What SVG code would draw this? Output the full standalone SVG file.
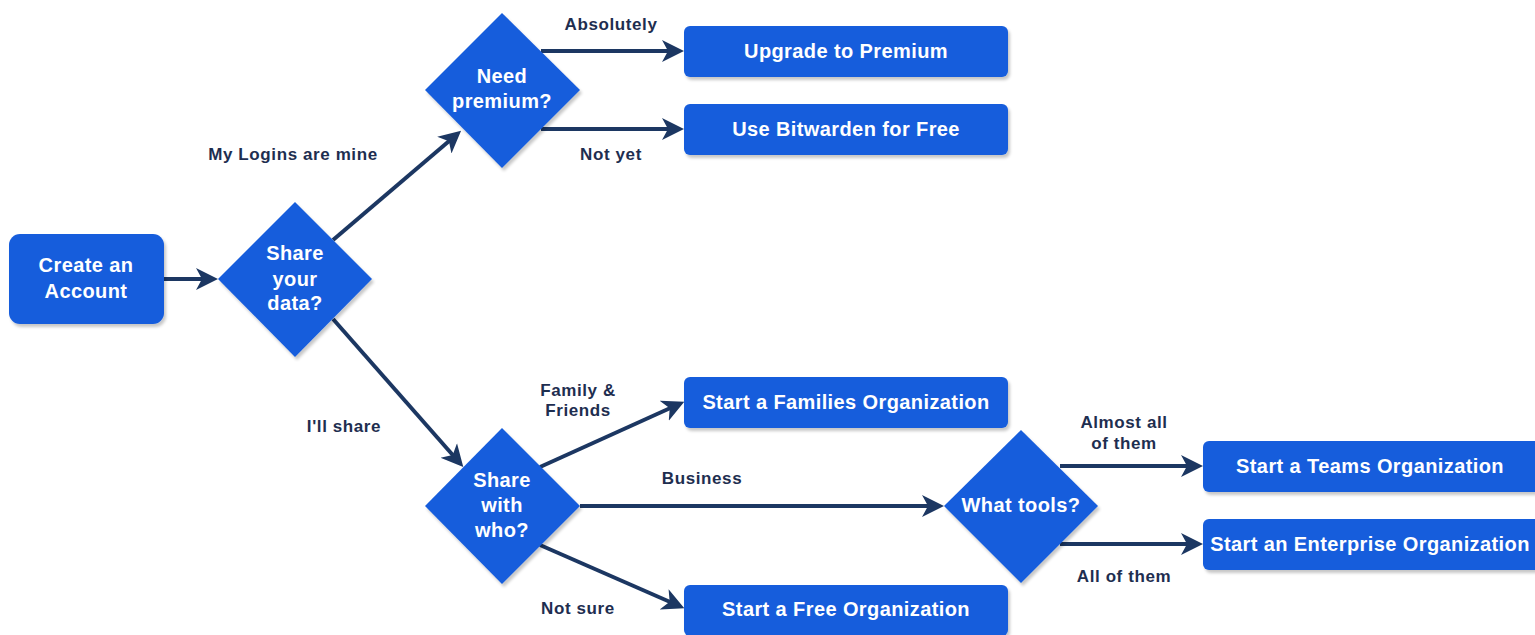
<svg xmlns="http://www.w3.org/2000/svg" width="1535" height="635" viewBox="0 0 1535 635">
<defs>
<filter id="sh" x="-10%" y="-10%" width="130%" height="130%">
<feDropShadow dx="2" dy="3" stdDeviation="1.5" flood-color="#000" flood-opacity="0.22"/>
</filter>
<marker id="arr" markerUnits="userSpaceOnUse" markerWidth="24" markerHeight="24" viewBox="0 0 24 24" refX="14" refY="12" orient="auto">
<path d="M0,1 L22,12 L0,23 L6,12 Z" fill="#1c3762"/>
</marker>
<style>
.node{fill:#175ddc;filter:url(#sh)}
.nt{font-family:"Liberation Sans",Arial,Helvetica,sans-serif;font-weight:bold;font-size:20px;letter-spacing:0.4px;fill:#fff;text-anchor:middle}
.lb{font-family:"Liberation Sans",Arial,Helvetica,sans-serif;font-weight:bold;font-size:17px;letter-spacing:0.6px;fill:#1e2e50;text-anchor:middle}
.e{stroke:#1c3762;stroke-width:4;fill:none;marker-end:url(#arr)}
</style>
</defs>
<rect width="1535" height="635" fill="#fff"/>

<g id="connectors">
<line class="e" x1="164" y1="279" x2="210" y2="279"/>
<line class="e" x1="333" y1="240" x2="455" y2="136"/>
<line class="e" x1="333" y1="319" x2="458" y2="461"/>
<line class="e" x1="541" y1="51" x2="676" y2="51"/>
<line class="e" x1="541" y1="129" x2="676" y2="129"/>
<line class="e" x1="540" y1="467" x2="677" y2="405"/>
<line class="e" x1="580" y1="506" x2="936" y2="506"/>
<line class="e" x1="540" y1="545" x2="677" y2="605"/>
<line class="e" x1="1060" y1="466" x2="1195" y2="466"/>
<line class="e" x1="1060" y1="544" x2="1195" y2="544"/>
</g>

<g id="labels">
<text class="lb" x="611" y="30">Absolutely</text>
<text class="lb" x="611" y="160">Not yet</text>
<text class="lb" x="293" y="160">My Logins are mine</text>
<text class="lb" x="344" y="432">I'll share</text>
<text class="lb" x="578" y="396">Family &amp;</text>
<text class="lb" x="578" y="416">Friends</text>
<text class="lb" x="702" y="484">Business</text>
<text class="lb" x="578" y="614">Not sure</text>
<text class="lb" x="1124" y="428">Almost all</text>
<text class="lb" x="1124" y="449">of them</text>
<text class="lb" x="1124" y="582">All of them</text>
</g>

<g id="create-account">
<rect class="node" x="9" y="234" width="155" height="90" rx="11"/>
<text class="nt" x="86" y="272">Create an</text>
<text class="nt" x="86" y="298">Account</text>
</g>

<g id="share-your-data">
<polygon class="node" points="295,202 372,279 295,357 218,279"/>
<text class="nt" x="295" y="260">Share</text>
<text class="nt" x="295" y="286">your</text>
<text class="nt" x="295" y="310">data?</text>
</g>

<g id="need-premium">
<polygon class="node" points="502,13 580,90 502,168 425,90"/>
<text class="nt" x="502" y="83">Need</text>
<text class="nt" x="502" y="108">premium?</text>
</g>

<g id="upgrade-premium">
<rect class="node" x="684" y="26" width="324" height="51" rx="6"/>
<text class="nt" x="846" y="58">Upgrade to Premium</text>
</g>

<g id="use-free">
<rect class="node" x="684" y="104" width="324" height="51" rx="6"/>
<text class="nt" x="846" y="136">Use Bitwarden for Free</text>
</g>

<g id="share-with-who">
<polygon class="node" points="502,428 580,506 502,584 425,506"/>
<text class="nt" x="502" y="487">Share</text>
<text class="nt" x="502" y="512">with</text>
<text class="nt" x="502" y="537">who?</text>
</g>

<g id="families-org">
<rect class="node" x="684" y="377" width="324" height="51" rx="6"/>
<text class="nt" x="846" y="409">Start a Families Organization</text>
</g>

<g id="free-org">
<rect class="node" x="684" y="585" width="324" height="51" rx="6"/>
<text class="nt" x="846" y="616">Start a Free Organization</text>
</g>

<g id="what-tools">
<polygon class="node" points="1021,430 1098,506 1021,583 944,506"/>
<text class="nt" x="1021" y="512">What tools?</text>
</g>

<g id="teams-org">
<rect class="node" x="1203" y="441" width="340" height="51" rx="6"/>
<text class="nt" x="1370" y="473">Start a Teams Organization</text>
</g>

<g id="enterprise-org">
<rect class="node" x="1203" y="519" width="340" height="51" rx="6"/>
<text class="nt" x="1370" y="551">Start an Enterprise Organization</text>
</g>
</svg>
